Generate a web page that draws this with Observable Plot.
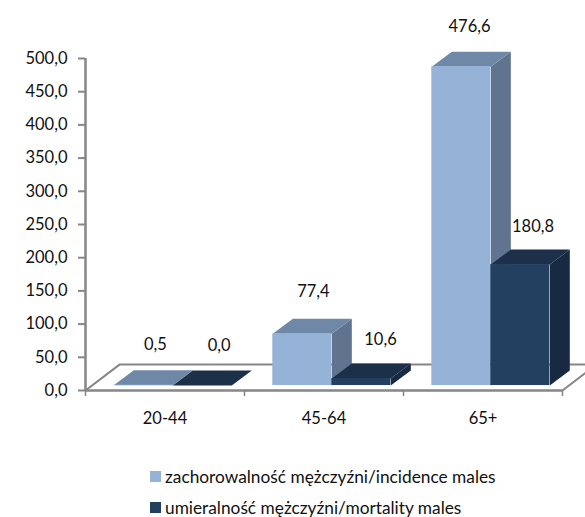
<!DOCTYPE html>
<html>
<head>
<meta charset="utf-8">
<script src="https://cdn.jsdelivr.net/npm/d3@7"></script>
<script src="https://cdn.jsdelivr.net/npm/@observablehq/plot@0.6"></script>
<style>
html,body{margin:0;padding:0;background:#fff;overflow:hidden;width:585px;height:517px}
#chart svg{display:block;overflow:hidden}
.row{position:absolute;left:150px;font:17.3px Lato,sans-serif;color:#111;display:flex;align-items:center;white-space:nowrap;height:20px}
.sw{width:11px;height:11px;margin-right:4px;display:inline-block}
</style>
</head>
<body>
<div id="chart"></div>
<div id="legend"></div>
<script>
const ageGroups = ["20-44", "45-64", "65+"];
const incidence = [0.5, 77.4, 476.6];
const mortality = [0.0, 10.6, 180.8];
const seriesNames = ["zachorowalność mężczyźni/incidence males", "umieralność mężczyźni/mortality males"];
const yTicks = [0, 50, 100, 150, 200, 250, 300, 350, 400, 450, 500];

// 3D projection, in scale units
const barLeft = 0.178, barW = 0.371, depthX = 0.126, depthY = 22.6;
const lift = 7.5, stretch = 1.0075;
const floorX = 0.2138, floorY = 39;
const palette = [
  {front:"#95B3D7", top:"#7088A8", side:"#60748F"},
  {front:"#244061", top:"#1C3049", side:"#182A41"}
];
const fmt = d => d.toFixed(1).replace(".", ",");
const labelShift = [[0.076, 0.106], [0.07, 0.121], [0.052, 0.08]];
const labelRise = [[-40, -40], [-42, -39], [-40, -38]];

const bars = [];
ageGroups.forEach((g, i) => {
  [incidence[i], mortality[i]].forEach((v, s) => {
    const x1 = i + barLeft + s * barW, x2 = x1 + barW;
    const y0 = lift, y1 = lift + v * stretch;
    bars.push({g, s, v, x1, x2, y0, y1, c: palette[s], mid: (x1 + x2) / 2 + labelShift[i][s], rise: labelRise[i][s]});
  });
});
const poly = (key, colorKey, fn) => bars.flatMap((b, n) =>
  fn(b).map(([x, y]) => ({x, y, id: key + n, fill: b.c[colorKey]})));
const sides = poly("side", "side", b => [[b.x2, b.y0], [b.x2 + depthX, b.y0 + depthY], [b.x2 + depthX, b.y1 + depthY], [b.x2, b.y1], [b.x2, b.y0]]);
const tops = poly("top", "top", b => [[b.x1, b.y1], [b.x2, b.y1], [b.x2 + depthX, b.y1 + depthY], [b.x1 + depthX, b.y1 + depthY], [b.x1, b.y1]]);

const floor = [[0, 0], [floorX, floorY], [3 + floorX, floorY], [3, 0]].map(([x, y]) => ({x, y}));
const gray = "#868686";

// each bar painted back to front so the next bar overlaps correctly
const barMarks = bars.flatMap((b, n) => [
  Plot.line(sides.filter(d => d.id === "side" + n), {x: "x", y: "y", fill: b.c.side, stroke: null, curve: "linear"}),
  Plot.line(tops.filter(d => d.id === "top" + n), {x: "x", y: "y", fill: b.c.top, stroke: null, curve: "linear"}),
  Plot.rect([b], {x1: "x1", x2: "x2", y1: "y0", y2: "y1", fill: b.c.front, inset: 0})
]);

// data labels, one mark per lift since dy is a constant option
const labelMarks = bars.map(b => Plot.text([b], {x: "mid", y: "y1", text: d => fmt(d.v), dy: b.rise, fill: "#111", fontSize: 16.5}));

const chart = Plot.plot({
  width: 585, height: 460,
  marginLeft: 85, marginRight: 23, marginTop: 58, marginBottom: 70,
  x: {domain: [0, 3], axis: null},
  y: {domain: [0, 500], axis: null},
  style: {fontFamily: "Lato, sans-serif", background: "#fff"},
  marks: [
    Plot.line(floor, {x: "x", y: "y", stroke: gray, strokeWidth: 2}),
    Plot.ruleX([0], {y1: 0, y2: 500, stroke: gray, strokeWidth: 2.5}),
    Plot.ruleY([0], {x1: 0, x2: 3, stroke: gray, strokeWidth: 2.5}),
    ...barMarks,
    Plot.axisY({ticks: yTicks, tickFormat: fmt, tickSize: 7, tickPadding: 11, stroke: gray, strokeWidth: 2, fill: "#111", fontSize: 16.5, label: null}),
    Plot.axisX({ticks: [0, 1, 2, 3], tickSize: 6, tickFormat: () => "", stroke: gray, strokeWidth: 1.5, label: null}),
    Plot.text(ageGroups, {x: (d, i) => i + 0.5, y: 0, text: d => d, dy: 28, fill: "#111", fontSize: 16.5}),
    ...labelMarks
  ]
});
document.getElementById("chart").append(chart);

const legend = document.getElementById("legend");
seriesNames.forEach((name, i) => {
  const row = document.createElement("div");
  row.className = "row";
  row.style.top = (466 + i * 31) + "px";
  const sw = document.createElement("span");
  sw.className = "sw";
  sw.style.background = palette[i].front;
  row.append(sw, document.createTextNode(name));
  legend.append(row);
});
</script>
</body>
</html>
